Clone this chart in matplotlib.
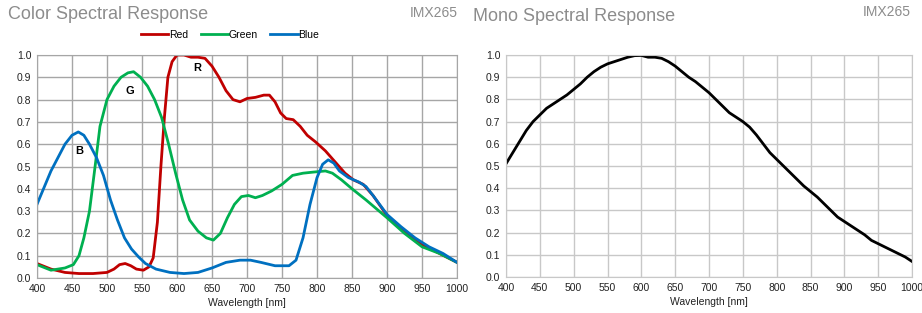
import matplotlib.pyplot as plt

plt.rcParams['font.family'] = ['Liberation Sans', 'DejaVu Sans']

# colour sensor curves (wavelength nm, relative response)
wl_blue = [400, 420, 440, 450, 459, 467, 475, 485, 495, 505, 515, 525, 535, 545, 555, 570, 590, 610, 630,
           650, 670, 690, 705, 720, 740, 760, 770, 780, 790, 800, 808, 816, 824, 832, 845, 860, 870,
           880, 900, 920, 940, 960, 980, 1000]
blue = [0.33, 0.48, 0.60, 0.64, 0.655, 0.64, 0.60, 0.54, 0.46, 0.35, 0.26, 0.18, 0.13, 0.095, 0.065,
        0.04, 0.025, 0.02, 0.025, 0.045, 0.07, 0.08, 0.08, 0.07, 0.055, 0.055, 0.08, 0.18, 0.33, 0.45,
        0.51, 0.53, 0.515, 0.48, 0.45, 0.43, 0.41, 0.37, 0.285, 0.23, 0.18, 0.14, 0.11, 0.07]

wl_green = [400, 420, 440, 452, 460, 467, 475, 483, 490, 500, 510, 520, 530, 538, 548, 558, 568, 578,
            588, 598, 608, 618, 630, 642, 652, 662, 672, 682, 692, 702, 712, 722, 735, 750, 765, 780,
            795, 812, 822, 835, 850, 870, 900, 925, 950, 975, 1000]
green = [0.06, 0.035, 0.045, 0.06, 0.10, 0.18, 0.30, 0.50, 0.68, 0.80, 0.86, 0.90, 0.92, 0.925, 0.90,
         0.86, 0.80, 0.72, 0.60, 0.47, 0.35, 0.26, 0.21, 0.18, 0.17, 0.20, 0.27, 0.33, 0.365, 0.37,
         0.36, 0.37, 0.39, 0.42, 0.46, 0.47, 0.475, 0.48, 0.47, 0.44, 0.40, 0.35, 0.27, 0.2, 0.14,
         0.11, 0.07]

wl_red = [400, 420, 440, 460, 480, 500, 510, 518, 526, 534, 542, 552, 560, 566, 572, 577, 582, 587,
          593, 600, 610, 620, 630, 640, 650, 660, 670, 680, 690, 700, 712, 724, 732, 740, 748, 756,
          766, 776, 786, 798, 812, 826, 840, 852, 866, 880, 900, 925, 950, 975, 1000]
red = [0.065, 0.04, 0.025, 0.02, 0.02, 0.025, 0.04, 0.06, 0.065, 0.055, 0.04, 0.035, 0.05, 0.09, 0.25,
       0.50, 0.72, 0.90, 0.97, 1.0, 1.0, 0.99, 0.99, 0.985, 0.95, 0.90, 0.84, 0.80, 0.79, 0.805, 0.81,
       0.82, 0.82, 0.79, 0.74, 0.715, 0.71, 0.68, 0.64, 0.61, 0.57, 0.52, 0.47, 0.44, 0.42, 0.37,
       0.28, 0.21, 0.15, 0.11, 0.07]

# mono sensor curve
wl_mono = [400, 410, 420, 430, 440, 450, 460, 470, 480, 490, 500, 510, 520, 530, 540, 550, 560, 570,
           580, 590, 600, 610, 620, 630, 640, 650, 660, 670, 680, 690, 700, 710, 720, 730, 740, 750,
           760, 770, 780, 790, 800, 810, 820, 830, 840, 850, 860, 870, 880, 890, 900, 910, 920, 930,
           940, 950, 960, 970, 980, 990, 1000]
mono = [0.51, 0.56, 0.61, 0.66, 0.70, 0.73, 0.76, 0.78, 0.80, 0.82, 0.845, 0.87, 0.90, 0.925, 0.945,
        0.96, 0.97, 0.98, 0.99, 0.997, 0.998, 0.99, 0.99, 0.985, 0.97, 0.95, 0.925, 0.90, 0.88, 0.855,
        0.83, 0.80, 0.77, 0.74, 0.72, 0.70, 0.675, 0.64, 0.60, 0.56, 0.53, 0.50, 0.47, 0.44, 0.41,
        0.385, 0.36, 0.33, 0.30, 0.27, 0.25, 0.23, 0.21, 0.19, 0.165, 0.15, 0.135, 0.12, 0.105, 0.09,
        0.07]

xticks = list(range(400, 1001, 50))
yticks = [i / 10 for i in range(11)]

fig = plt.figure(figsize=(9.22, 3.13), dpi=100)
ax1 = fig.add_axes([0.0401, 0.1118, 0.4556, 0.7125])
ax2 = fig.add_axes([0.5488, 0.115, 0.4404, 0.7093])


def style(ax, gridcol):
    ax.set_xlim(400, 1000)
    ax.set_ylim(0, 1.0)
    ax.set_xticks(xticks)
    ax.set_yticks(yticks)
    ax.set_yticklabels([f'{v:.1f}' for v in yticks])
    ax.grid(True, color=gridcol, linewidth=1.0)
    ax.set_axisbelow(True)
    for s in ax.spines.values():
        s.set_color(gridcol)
    ax.tick_params(length=0, labelsize=7.5, colors='#222222', pad=4)
    ax.set_xlabel('Wavelength [nm]', fontsize=7.5, color='#222222', labelpad=3)


ax1.plot(wl_red, red, color='#C00000', lw=2, label='Red')
ax1.plot(wl_green, green, color='#00B050', lw=2, label='Green')
ax1.plot(wl_blue, blue, color='#0070C0', lw=2, label='Blue')
style(ax1, '#A6A6A6')
ax1.text(629, 0.94, 'R', fontsize=8, fontweight='bold', ha='center', va='center')
ax1.text(533, 0.84, 'G', fontsize=8, fontweight='bold', ha='center', va='center')
ax1.text(460, 0.57, 'B', fontsize=8, fontweight='bold', ha='center', va='center')
ax1.legend(loc='lower center', bbox_to_anchor=(0.46, 1.035), ncol=3, frameon=False, fontsize=7.5,
           handlelength=2.6, handletextpad=0.1, columnspacing=1.2, borderaxespad=0.3)

ax2.plot(wl_mono, mono, color='black', lw=2)
style(ax2, '#C8C8C8')

fig.text(0.009, 0.955, 'Color Spectral Response', fontsize=13, color='#8C8C8C', va='center')
fig.text(0.496, 0.958, 'IMX265', fontsize=10, color='#8C8C8C', va='center', ha='right')
fig.text(0.513, 0.948, 'Mono Spectral Response', fontsize=13, color='#8C8C8C', va='center')
fig.text(0.988, 0.962, 'IMX265', fontsize=10, color='#8C8C8C', va='center', ha='right')

fig.savefig('out.png', dpi=100)
